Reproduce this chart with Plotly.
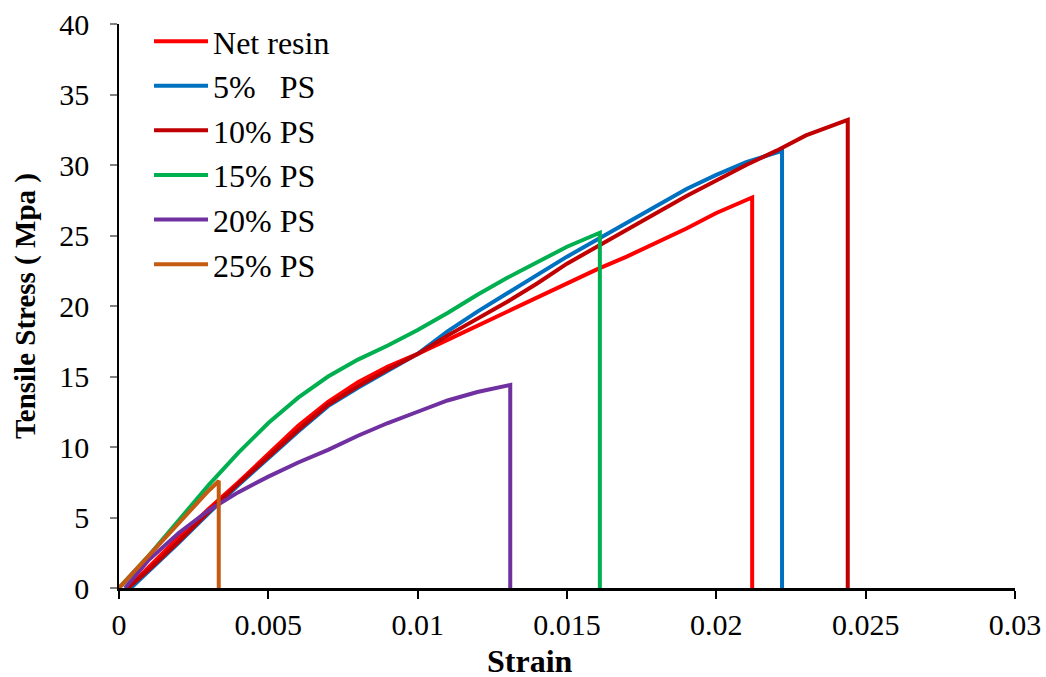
import plotly.graph_objects as go

names = ["Net resin", "5%   PS", "10% PS", "15% PS", "20% PS", "25% PS"]
colors = ["#FF0000", "#0070C0", "#C00000", "#00B050", "#7030A0", "#C55A11"]

net_x = [0.0003, 0.001, 0.002, 0.003, 0.004, 0.005, 0.006, 0.007, 0.008, 0.009, 0.010, 0.011, 0.012,
         0.013, 0.014, 0.015, 0.016, 0.017, 0.018, 0.019, 0.020, 0.0212, 0.0212]
net_y = [0, 1.5, 3.6, 5.6, 7.5, 9.5, 11.5, 13.2, 14.6, 15.7, 16.6, 17.6, 18.6,
         19.6, 20.6, 21.6, 22.6, 23.5, 24.5, 25.5, 26.6, 27.7, 0]

ps5_x = [0.0004, 0.001, 0.002, 0.003, 0.004, 0.005, 0.006, 0.007, 0.008, 0.009, 0.010, 0.011, 0.012,
         0.013, 0.014, 0.015, 0.016, 0.017, 0.018, 0.019, 0.020, 0.021, 0.0222, 0.0222]
ps5_y = [0, 1.2, 3.2, 5.3, 7.3, 9.2, 11.1, 12.9, 14.2, 15.4, 16.6, 18.2, 19.6,
         20.9, 22.2, 23.5, 24.7, 25.9, 27.1, 28.3, 29.3, 30.2, 31.0, 0]

ps10_x = [0.0003, 0.001, 0.002, 0.003, 0.004, 0.005, 0.006, 0.007, 0.008, 0.009, 0.010, 0.011, 0.012,
          0.013, 0.014, 0.015, 0.016, 0.017, 0.018, 0.019, 0.020, 0.021, 0.022, 0.023, 0.0244, 0.0244]
ps10_y = [0, 1.3, 3.3, 5.4, 7.4, 9.3, 11.2, 13.0, 14.3, 15.5, 16.6, 17.9, 19.1,
          20.3, 21.6, 23.0, 24.2, 25.4, 26.6, 27.8, 28.9, 30.0, 31.0, 32.1, 33.2, 0]

ps15_x = [0.0, 0.001, 0.002, 0.003, 0.004, 0.005, 0.006, 0.007, 0.008, 0.009, 0.010, 0.011, 0.012,
          0.013, 0.014, 0.015, 0.0161, 0.0161]
ps15_y = [0, 2.3, 4.8, 7.3, 9.6, 11.7, 13.5, 15.0, 16.2, 17.2, 18.3, 19.5, 20.8,
          22.0, 23.1, 24.2, 25.2, 0]

ps20_x = [0.0002, 0.001, 0.002, 0.003, 0.004, 0.005, 0.006, 0.007, 0.008, 0.009, 0.010, 0.011, 0.012,
          0.0131, 0.0131]
ps20_y = [0, 2.0, 3.9, 5.5, 6.8, 7.9, 8.9, 9.8, 10.8, 11.7, 12.5, 13.3, 13.9, 14.4, 0]

ps25_x = [0.0, 0.001, 0.002, 0.0025, 0.003, 0.0033, 0.00334, 0.00334]
ps25_y = [0, 2.3, 4.6, 5.8, 6.9, 7.5, 7.6, 0]

xs = [net_x, ps5_x, ps10_x, ps15_x, ps20_x, ps25_x]
ys = [net_y, ps5_y, ps10_y, ps15_y, ps20_y, ps25_y]

x_ticks = [0, 0.005, 0.01, 0.015, 0.02, 0.025, 0.03]
x_labels = ["0", "0.005", "0.01", "0.015", "0.02", "0.025", "0.03"]
y_ticks = [0, 5, 10, 15, 20, 25, 30, 35, 40]

x_title = "Strain"
y_title = "Tensile Stress ( Mpa )"

fig = go.Figure()
for i in range(len(names)):
    fig.add_trace(go.Scatter(
        x=xs[i], y=ys[i], mode="lines", name=names[i],
        line=dict(color=colors[i], width=4),
        legendgroup=f"g{i}",
    ))

font_family = "Liberation Serif, Times New Roman, serif"
fig.update_layout(
    width=1046, height=677,
    margin=dict(l=119, r=31, t=24, b=89),
    paper_bgcolor="white", plot_bgcolor="white",
    font=dict(family=font_family, size=30, color="black"),
    showlegend=True,
    legend=dict(
        x=0.0335, y=1.018, xanchor="left", yanchor="top",
        bgcolor="rgba(0,0,0,0)", tracegroupgap=0, itemwidth=54,
        font=dict(family=font_family, size=32, color="black"),
    ),
    xaxis=dict(
        range=[0, 0.03], tickvals=x_ticks, ticktext=x_labels,
        showgrid=False, zeroline=False, automargin=False,
        showline=True, linecolor="black", linewidth=3,
        ticks="outside", ticklen=8, tickwidth=2, tickcolor="black",
        ticklabelstandoff=0,
        tickfont=dict(family=font_family, size=30),
    ),
    yaxis=dict(
        range=[0, 40], tickvals=y_ticks,
        showgrid=False, zeroline=False, automargin=False,
        showline=True, linecolor="black", linewidth=1.5,
        ticks="outside", ticklen=7, tickwidth=1.5, tickcolor="#808080",
        ticklabelstandoff=15,
        tickfont=dict(family=font_family, size=30),
        title=dict(text=f"<b>{y_title}</b>", font=dict(family=font_family, size=29), standoff=15),
    ),
    annotations=[dict(
        text=f"<b>{x_title}</b>", xref="paper", yref="paper",
        x=0.4587, y=-0.129, xanchor="center", yanchor="middle", showarrow=False,
        borderpad=0,
        font=dict(family=font_family, size=32, color="black"),
    )],
)

fig.write_html("out.html", config={"displayModeBar": False},
               post_script="document.body.style.margin='0';document.body.style.overflow='hidden';")
